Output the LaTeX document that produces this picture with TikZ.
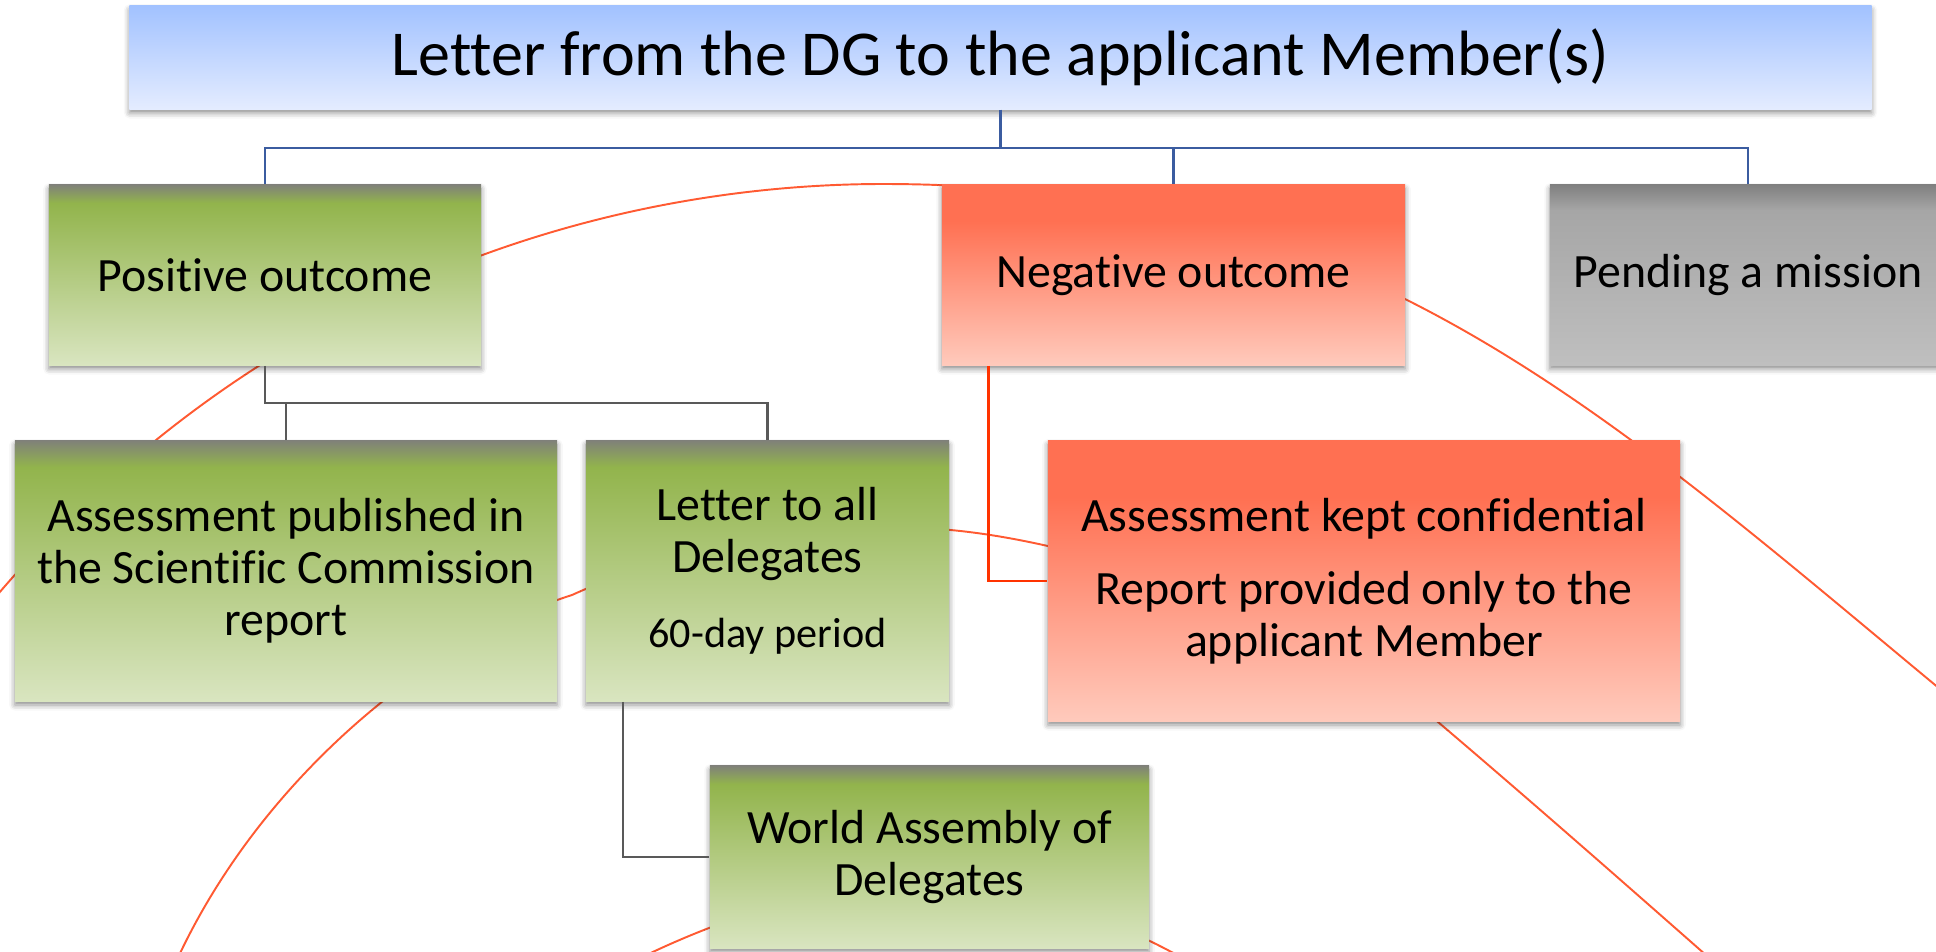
\documentclass[tikz,border=0pt]{standalone}
\usepackage{fontspec}
\setmainfont{Carlito}[Ligatures=NoCommon]
\usetikzlibrary{shadows.blur}

\definecolor{greentop}{RGB}{128,130,120}
\definecolor{greenmid}{RGB}{146,180,76}
\definecolor{greenlow}{RGB}{217,229,192}
\definecolor{redtop}{RGB}{255,112,82}
\definecolor{redlow}{RGB}{255,202,188}
\definecolor{greytop}{RGB}{128,128,128}
\definecolor{greymid}{RGB}{166,166,166}
\definecolor{greylow}{RGB}{191,191,191}
\definecolor{bluetop}{RGB}{162,194,255}
\definecolor{bluelow}{RGB}{228,236,255}
\definecolor{busblue}{RGB}{59,92,160}
\definecolor{busgrey}{RGB}{89,89,89}
\definecolor{busred}{RGB}{255,51,0}
\definecolor{swirlred}{RGB}{255,90,50}

\pgfdeclareverticalshading{greenfade}{100bp}{color(0bp)=(greenlow); color(25bp)=(greenlow); color(70bp)=(greenmid); color(75bp)=(greentop); color(100bp)=(greentop)}
\pgfdeclareverticalshading{redfade}{100bp}{color(0bp)=(redlow); color(25bp)=(redlow); color(65bp)=(redtop); color(100bp)=(redtop)}
\pgfdeclareverticalshading{greyfade}{100bp}{color(0bp)=(greylow); color(25bp)=(greylow); color(68bp)=(greymid); color(75bp)=(greytop); color(100bp)=(greytop)}
\pgfdeclareverticalshading{bluefade}{100bp}{color(0bp)=(bluelow); color(25bp)=(bluelow); color(75bp)=(bluetop); color(100bp)=(bluetop)}

\begin{document}
\begin{tikzpicture}[x=0.01cm, y=-0.01cm,
		box/.style={rectangle, inner sep=0pt, align=center, font=\fontsize{13.6}{14.8}\selectfont,
			blur shadow={shadow xshift=0pt, shadow yshift=-1.1pt, shadow blur radius=1.6pt, shadow opacity=45}},
		greenbox/.style={box, shading=greenfade},
		redbox/.style={box, shading=redfade},
		greybox/.style={box, shading=greyfade},
		bluebox/.style={box, shading=bluefade},
		swirl/.style={draw=swirlred, line width=0.55pt},
		blueline/.style={draw=busblue, line width=0.6pt},
		greyline/.style={draw=busgrey, line width=0.6pt},
		redline/.style={draw=busred, line width=0.8pt}]
		\useasboundingbox (0,0) rectangle (1936,951);
		\clip (0,0) rectangle (1936,951);

		\draw[swirl] (-30,628) .. controls (240,290) and (600,184) .. (883,184) .. controls (1060,184) and (1235,214) .. (1405,299) .. controls (1605,399) and (1780,558) .. (1980,722);
		\draw[swirl] (160,1000) .. controls (240,790) and (430,640) .. (572,595) .. controls (682,545) and (800,528) .. (910,528) .. controls (1050,528) and (1308,612) .. (1438,722) .. controls (1538,807) and (1640,897) .. (1740,985);
		\draw[swirl] (620,968) .. controls (820,866) and (1000,850) .. (1200,968);

		\node[bluebox, minimum width=17.41cm, minimum height=1.03cm, font=\fontsize{18.2}{22}\selectfont] (letter) at (1000.5,57.5) {Letter from the DG to the applicant Member(s)};
		\node[greenbox, minimum width=4.32cm, minimum height=1.8cm] (positive) at (265,275) {Positive outcome};
		\node[redbox, minimum width=4.63cm, minimum height=1.8cm] (negative) at (1173.5,275) {Negative outcome};
		\node[greybox, minimum width=3.96cm, minimum height=1.8cm] (pending) at (1748,275) {Pending a mission};
		\node[greenbox, minimum width=5.42cm, minimum height=2.6cm] (published) at (286,571) {Assessment published in\\the Scientific Commission\\report};
		\node[greenbox, minimum width=3.63cm, minimum height=2.6cm] (delegates) at (767.5,571) {Letter to all\\Delegates\\[6.5pt]{\fontsize{12}{14}\selectfont 60-day period}};
		\node[redbox, minimum width=6.32cm, minimum height=2.8cm] (confidential) at (1364,581) {Assessment kept confidential\\[6pt]Report provided only to the\\applicant Member};
		\node[greenbox, minimum width=4.39cm, minimum height=1.82cm] (assembly) at (929.5,857) {World Assembly of\\Delegates};

		\coordinate (topbus) at (1000.5,148);
		\coordinate (midbus) at (265,403);
		\draw[blueline] (letter.south) -- (topbus) -| (positive.north);
		\draw[blueline] (topbus) -| (negative.north);
		\draw[blueline] (topbus) -| (pending.north);
		\draw[greyline] (positive.south) -- (midbus) -| (delegates.north);
		\draw[greyline] (midbus) -| (published.north);
		\draw[greyline] ([xshift=0.38cm]delegates.south west) |- (assembly.west);
		\draw[redline] ([xshift=0.47cm]negative.south west) |- (confidential.west);
\end{tikzpicture}
\end{document}
